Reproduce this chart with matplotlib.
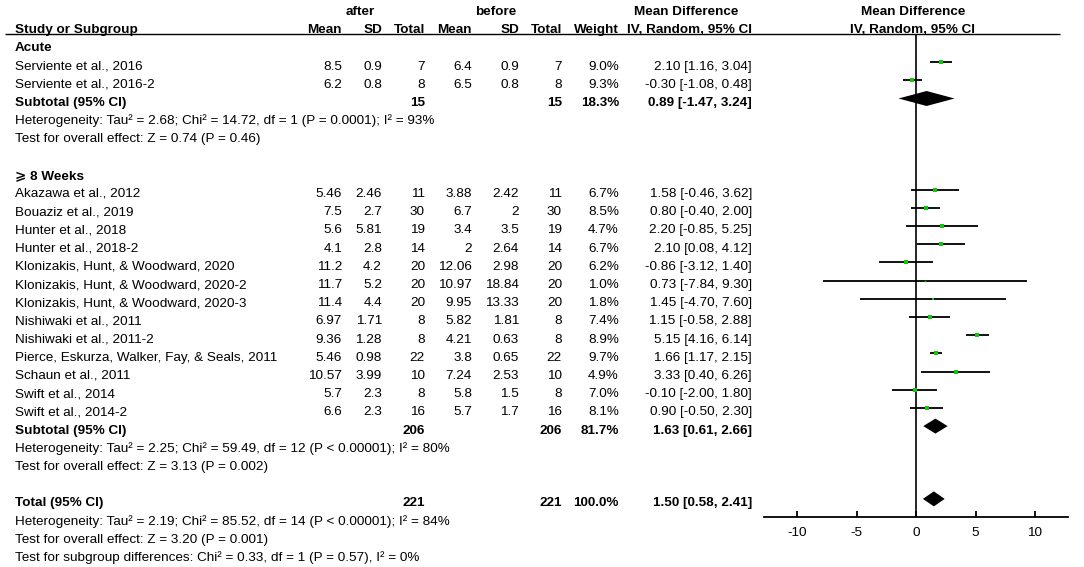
import matplotlib
matplotlib.use('Agg')
import matplotlib.pyplot as plt
from matplotlib.patches import Polygon
import numpy as np

# ---- study level data (after vs before)
study = ['Serviente et al., 2016', 'Serviente et al., 2016-2',
         'Akazawa et al., 2012', 'Bouaziz et al., 2019', 'Hunter et al., 2018',
         'Hunter et al., 2018-2', 'Klonizakis, Hunt, & Woodward, 2020',
         'Klonizakis, Hunt, & Woodward, 2020-2', 'Klonizakis, Hunt, & Woodward, 2020-3',
         'Nishiwaki et al., 2011', 'Nishiwaki et al., 2011-2',
         'Pierce, Eskurza, Walker, Fay, & Seals, 2011', 'Schaun et al., 2011',
         'Swift et al., 2014', 'Swift et al., 2014-2']
study_group = [0, 0, 1, 1, 1, 1, 1, 1, 1, 1, 1, 1, 1, 1, 1]
mean_after = [8.5, 6.2, 5.46, 7.5, 5.6, 4.1, 11.2, 11.7, 11.4, 6.97, 9.36, 5.46, 10.57, 5.7, 6.6]
sd_after = [0.9, 0.8, 2.46, 2.7, 5.81, 2.8, 4.2, 5.2, 4.4, 1.71, 1.28, 0.98, 3.99, 2.3, 2.3]
n_after = [7, 8, 11, 30, 19, 14, 20, 20, 20, 8, 8, 22, 10, 8, 16]
mean_before = [6.4, 6.5, 3.88, 6.7, 3.4, 2, 12.06, 10.97, 9.95, 5.82, 4.21, 3.8, 7.24, 5.8, 5.7]
sd_before = [0.9, 0.8, 2.42, 2, 3.5, 2.64, 2.98, 18.84, 13.33, 1.81, 0.63, 0.65, 2.53, 1.5, 1.7]
n_before = [7, 8, 11, 30, 19, 14, 20, 20, 20, 8, 8, 22, 10, 8, 16]
weight = [9.0, 9.3, 6.7, 8.5, 4.7, 6.7, 6.2, 1.0, 1.8, 7.4, 8.9, 9.7, 4.9, 7.0, 8.1]
md = [2.10, -0.30, 1.58, 0.80, 2.20, 2.10, -0.86, 0.73, 1.45, 1.15, 5.15, 1.66, 3.33, -0.10, 0.90]
ci_lo = [1.16, -1.08, -0.46, -0.40, -0.85, 0.08, -3.12, -7.84, -4.70, -0.58, 4.16, 1.17, 0.40, -2.00, -0.50]
ci_hi = [3.04, 0.48, 3.62, 2.00, 5.25, 4.12, 1.40, 9.30, 7.60, 2.88, 6.14, 2.15, 6.26, 1.80, 2.30]

# ---- subgroup results
groups = ['Acute', '\u2a7e 8 Weeks']
group_n = [15, 206]
group_weight = [18.3, 81.7]
group_md = [0.89, 1.63]
group_lo = [-1.47, 0.61]
group_hi = [3.24, 2.66]
group_het = ['Heterogeneity: Tau\u00b2 = 2.68; Chi\u00b2 = 14.72, df = 1 (P = 0.0001); I\u00b2 = 93%',
             'Heterogeneity: Tau\u00b2 = 2.25; Chi\u00b2 = 59.49, df = 12 (P < 0.00001); I\u00b2 = 80%']
group_z = ['Test for overall effect: Z = 0.74 (P = 0.46)',
           'Test for overall effect: Z = 3.13 (P = 0.002)']

# ---- overall
total_n = 221
total_weight = 100.0
total_md = 1.50
total_lo = 0.58
total_hi = 2.41
total_notes = ['Heterogeneity: Tau\u00b2 = 2.19; Chi\u00b2 = 85.52, df = 14 (P < 0.00001); I\u00b2 = 84%',
               'Test for overall effect: Z = 3.20 (P = 0.001)',
               'Test for subgroup differences: Chi\u00b2 = 0.33, df = 1 (P = 0.57), I\u00b2 = 0%']

ticks = [-10, -5, 0, 5, 10]

# ---- layout (pixels)
W, H = 1084, 567
FS = 9.7
FAM = ['Liberation Sans', 'DejaVu Sans']
ROW0, STEP = 7.5, 18.2      # centre of row 0 and row pitch
BASE = 7.5                   # text baseline below the mark centre
col_x = [342, 382, 425, 472, 519, 562, 619, 752]
X0, PX = 916, 11.9           # zero line position and px per unit
AX_LEFT, AX_RIGHT = 764, 1068
AXIS_Y = 517
HEAD_Y = 34

def ry(r):
    return ROW0 + STEP * r

def fmt(v):
    return f'{v:g}'

def ci_text(m, l, h):
    return f'{m:.2f} [{l:.2f}, {h:.2f}]'

fig = plt.figure(figsize=(W / 100, H / 100), dpi=100)
tab = fig.add_axes([0, 0, 1, 1])
tab.set_xlim(0, W)
tab.set_ylim(H, 0)
tab.axis('off')

xlo = (AX_LEFT - X0) / PX
xhi = (AX_RIGHT - X0) / PX
fa = fig.add_axes([AX_LEFT / W, 0, (AX_RIGHT - AX_LEFT) / W, 1])
fa.set_xlim(xlo, xhi)
fa.set_ylim(H, 0)
fa.patch.set_visible(False)
for s in ['top', 'left', 'right']:
    fa.spines[s].set_visible(False)
fa.spines['bottom'].set_position(('data', AXIS_Y))
fa.spines['bottom'].set_linewidth(1.3)
fa.set_yticks([])
fa.set_xticks(ticks)
fa.set_xticklabels([str(t) for t in ticks], fontsize=FS, family=FAM)
fa.tick_params(axis='x', direction='in', length=4, width=1.3, pad=7)


def put(x, r, s, ha='right', bold=False):
    tab.text(x, ry(r) + BASE, s, ha=ha, va='baseline', fontsize=FS,
             family=FAM, fontweight='bold' if bold else 'normal')


# header
put(360, 0, 'after', ha='center', bold=True)
put(496, 0, 'before', ha='center', bold=True)
put(686, 0, 'Mean Difference', ha='center', bold=True)
put(913, 0, 'Mean Difference', ha='center', bold=True)
put(15, 1, 'Study or Subgroup', ha='left', bold=True)
for x, s in zip(col_x, ['Mean', 'SD', 'Total', 'Mean', 'SD', 'Total', 'Weight',
                        'IV, Random, 95% CI']):
    put(x, 1, s, bold=True)
put(913, 1, 'IV, Random, 95% CI', ha='center', bold=True)
tab.hlines(HEAD_Y, 5, 1060, color='black', lw=1.0)


def diamond(r, m, l, h):
    y = ry(r)
    fa.add_patch(Polygon([[l, y], [m, y - 7.5], [h, y], [m, y + 7.5]],
                         closed=True, color='black', lw=0))


row = 2
for g, name in enumerate(groups):
    put(15, row, name, ha='left', bold=True)
    row += 1
    for i in range(len(study)):
        if study_group[i] != g:
            continue
        put(15, row, study[i], ha='left')
        vals = [fmt(mean_after[i]), fmt(sd_after[i]), str(n_after[i]),
                fmt(mean_before[i]), fmt(sd_before[i]), str(n_before[i]),
                f'{weight[i]:.1f}%', ci_text(md[i], ci_lo[i], ci_hi[i])]
        for x, s in zip(col_x, vals):
            put(x, row, s)
        fa.hlines(ry(row), ci_lo[i], ci_hi[i], color='#111111', lw=1.4)
        side = 1.5 * np.sqrt(weight[i]) * 0.72
        fa.plot(md[i], ry(row), 's', ms=side, color='#10c810', mew=0, zorder=3)
        row += 1
    put(15, row, 'Subtotal (95% CI)', ha='left', bold=True)
    put(col_x[2], row, str(group_n[g]), bold=True)
    put(col_x[5], row, str(group_n[g]), bold=True)
    put(col_x[6], row, f'{group_weight[g]:.1f}%', bold=True)
    put(col_x[7], row, ci_text(group_md[g], group_lo[g], group_hi[g]), bold=True)
    diamond(row, group_md[g], group_lo[g], group_hi[g])
    row += 1
    put(15, row, group_het[g], ha='left')
    row += 1
    put(15, row, group_z[g], ha='left')
    row += 2

put(15, row, 'Total (95% CI)', ha='left', bold=True)
put(col_x[2], row, str(total_n), bold=True)
put(col_x[5], row, str(total_n), bold=True)
put(col_x[6], row, f'{total_weight:.1f}%', bold=True)
put(col_x[7], row, ci_text(total_md, total_lo, total_hi), bold=True)
diamond(row, total_md, total_lo, total_hi)
for note in total_notes:
    row += 1
    put(15, row, note, ha='left')

fa.vlines(0, HEAD_Y, AXIS_Y, color='black', lw=1.2)

fig.savefig('out.png', dpi=100)
